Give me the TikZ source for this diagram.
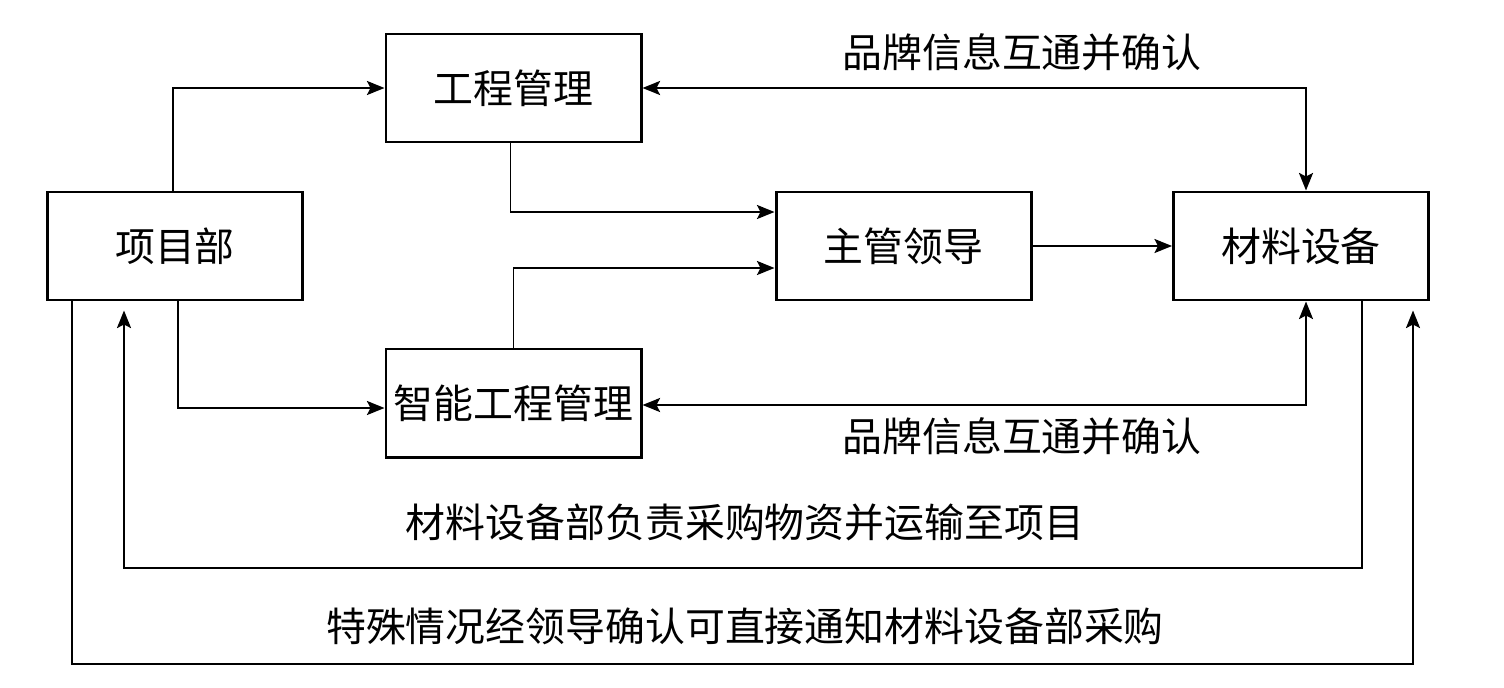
\documentclass[tikz,border=0pt]{standalone}
\usepackage{fontspec}
\newfontfamily\cjk{Noto Sans CJK SC}
\usetikzlibrary{arrows.meta,positioning}
\tikzset{
	>={Stealth[length=10pt,width=8pt,inset=2pt]},
	box/.style={draw,rectangle,line width=1.7pt,minimum width=5.1cm,minimum height=2.16cm,inner sep=0pt,align=center,font=\cjk\fontsize{22.7pt}{26pt}\selectfont},
	lbl/.style={font=\cjk\fontsize{22.7pt}{26pt}\selectfont},
	link/.style={line width=1.1pt},
	every new ->/.style={shorten >=0pt}
}
\begin{document}
\begin{tikzpicture}
	\useasboundingbox (0,0) rectangle (30.08,-13.74);
	\node[box] (xmb) at (3.5,-4.92) {项目部};
	\node[box] (gc) at (10.27,-1.76) {工程管理};
	\node[box] (zg) at (18.07,-4.92) {主管领导};
	\node[box] (cl) at (26.02,-4.92) {材料设备};
	\node[box] (zn) at (10.27,-8.06) {智能工程管理};
	\node[lbl] (pp1) at (20.44,-1.04) {品牌信息互通并确认};
	\node[lbl] (pp2) at (20.44,-8.72) {品牌信息互通并确认};
	\node[lbl] (ys) at (14.9,-10.44) {材料设备部负责采购物资并运输至项目};
	\node[lbl] (ts) at (14.9,-12.52) {特殊情况经领导确认可直接通知材料设备部采购};
	\coordinate (ret) at (14.9,-11.36);
	\coordinate (spc) at (14.9,-13.28);
	
	\draw[link,->] ([xshift=-0.04cm]xmb.north) |- (gc.west);
	\draw[link,->] ([xshift=0.06cm]xmb.south) |- ([yshift=-0.1cm]zn.west);
	\draw[link,->] ([xshift=-0.06cm]gc.south) |- ([yshift=0.68cm]zg.west);
	\draw[link,->] (zn.north) |- ([yshift=-0.44cm]zg.west);
	\draw[link,->] (zg) -- (cl);
	\draw[link,<->] (gc.east) -| ([xshift=0.1cm]cl.north);
	\draw[link,<->] ([yshift=-0.04cm]zn.east) -| ([xshift=0.1cm]cl.south);
	\draw[link,->,shorten >=0.18cm] ([xshift=1.22cm]cl.south) |- (ret) -| ([xshift=-1.02cm]xmb.south);
	\draw[link,->,shorten >=0.18cm] ([xshift=-2.06cm]xmb.south) |- (spc) -| ([xshift=2.24cm]cl.south);
\end{tikzpicture}
\end{document}
